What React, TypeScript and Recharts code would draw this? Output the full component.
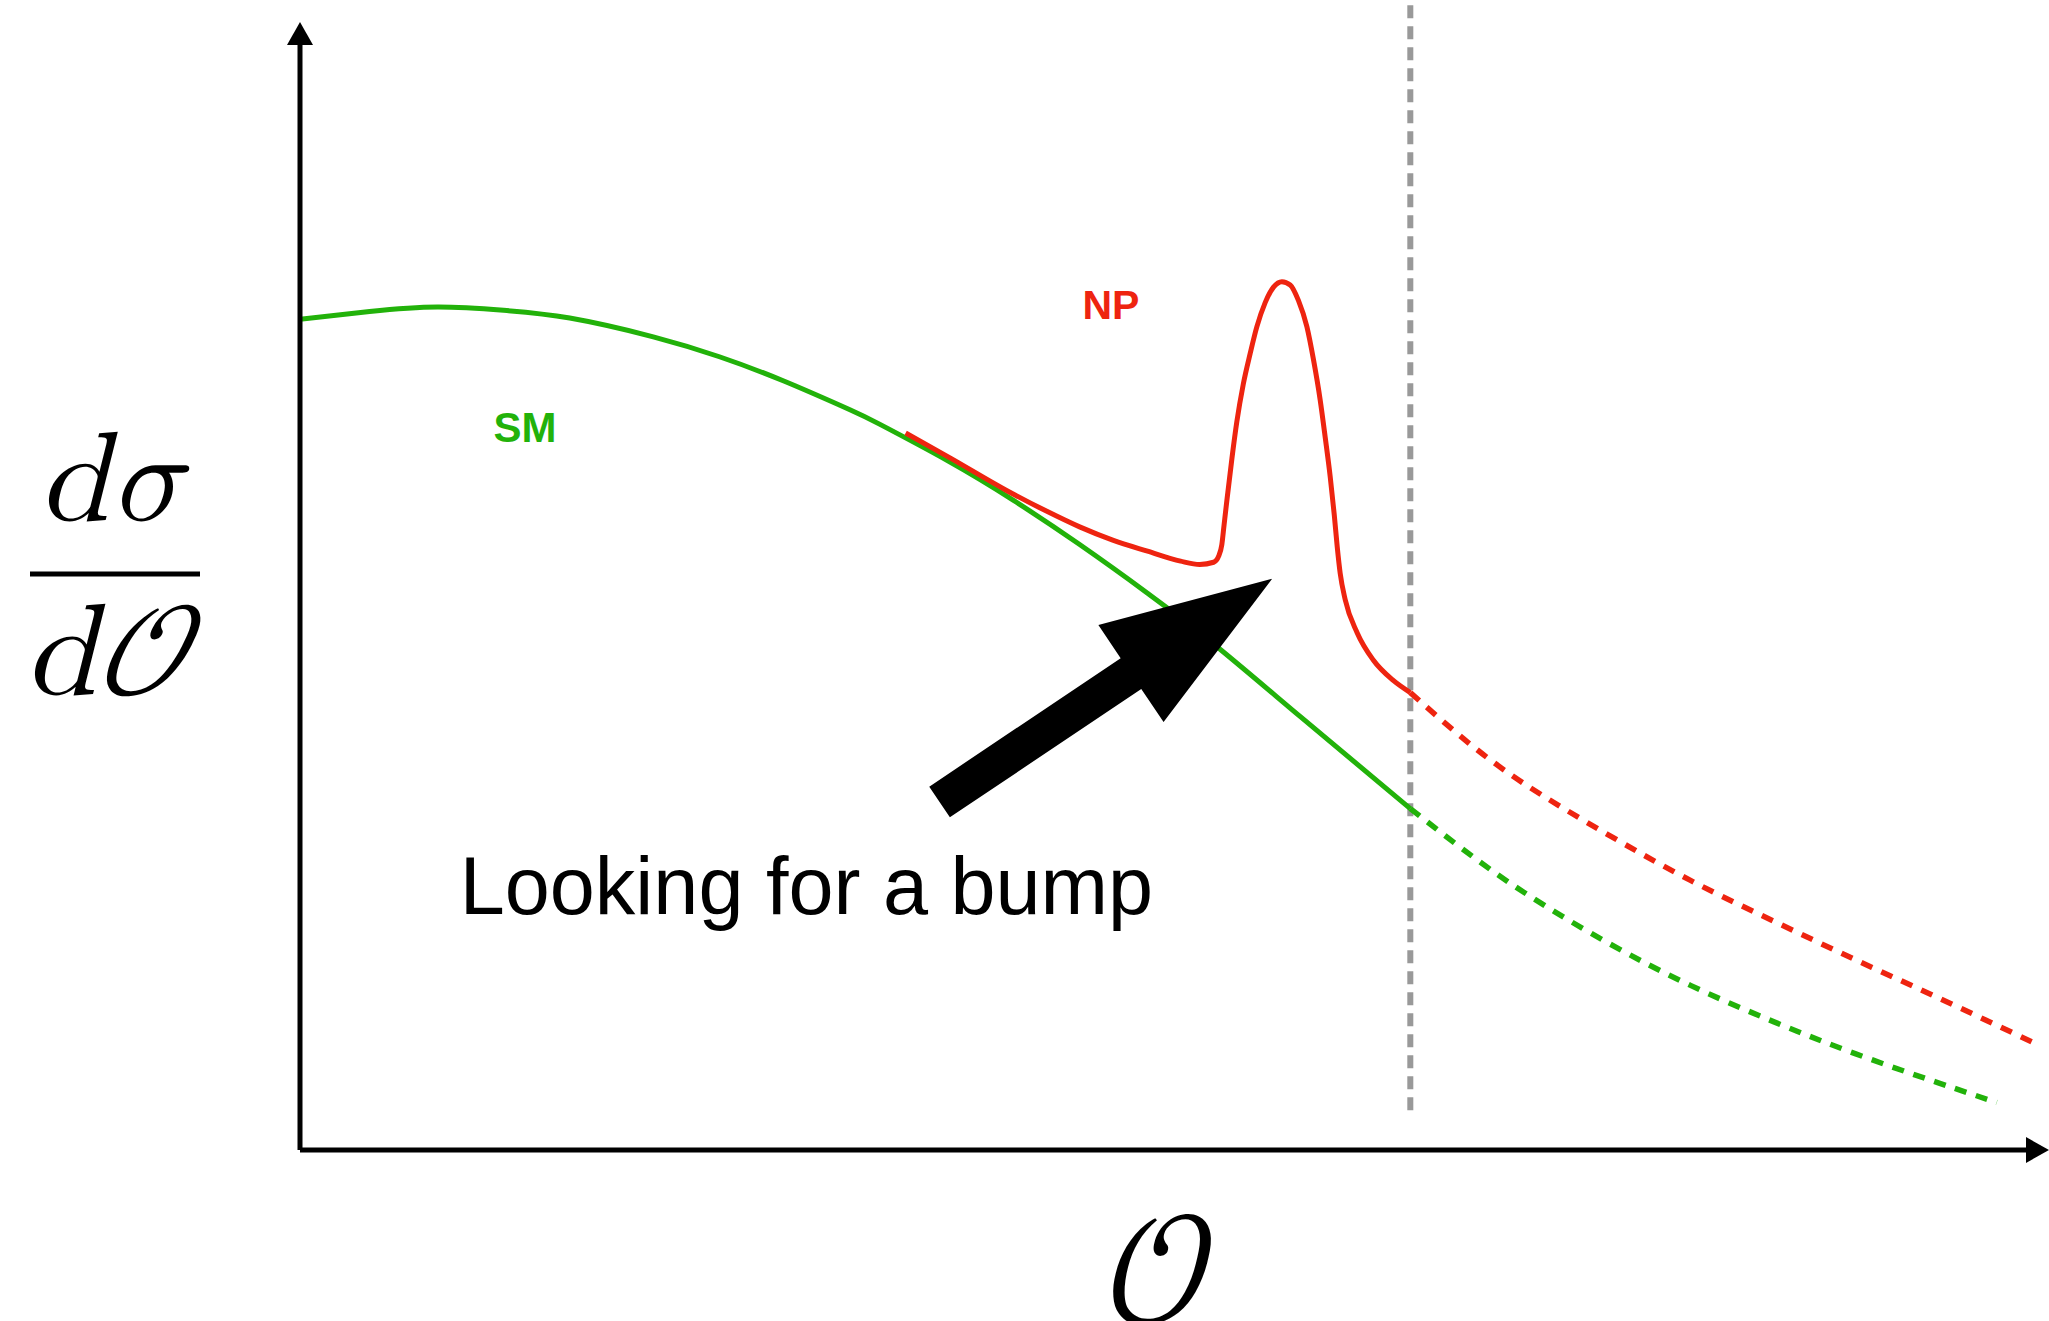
import { LineChart, Line, XAxis, YAxis, ReferenceLine, ReferenceDot } from 'recharts'

// observable O (arbitrary units) vs d sigma / d O (arbitrary units)
const smMeasured = [
  { o: 0, v: 75.2 }, { o: 4.0, v: 75.9 }, { o: 7.9, v: 76.3 }, { o: 11.7, v: 76.0 },
  { o: 15.5, v: 75.3 }, { o: 20.3, v: 73.6 }, { o: 24.1, v: 71.8 }, { o: 27.8, v: 69.6 },
  { o: 31.6, v: 67.0 }, { o: 33.3, v: 65.7 }, { o: 37.2, v: 62.4 }, { o: 41.0, v: 58.8 },
  { o: 44.8, v: 54.8 }, { o: 48.7, v: 50.4 }, { o: 52.5, v: 45.8 }, { o: 57.5, v: 39.2 },
  { o: 63.8, v: 30.9 },
]
const smExtrap = [
  { o: 63.8, v: 30.9 }, { o: 66.8, v: 27.25 }, { o: 70.3, v: 23.35 }, { o: 75.1, v: 18.8 },
  { o: 79.9, v: 14.9 }, { o: 84.7, v: 11.6 }, { o: 89.4, v: 8.7 }, { o: 94.1, v: 6.1 },
  { o: 97.5, v: 4.3 },
]
const npMeasured = [
  { o: 34.8, v: 64.9 }, { o: 37.4, v: 62.6 }, { o: 40.6, v: 59.7 }, { o: 42.8, v: 57.9 },
  { o: 44.8, v: 56.4 }, { o: 46.7, v: 55.2 }, { o: 48.7, v: 54.2 }, { o: 50.6, v: 53.3 },
  { o: 51.7, v: 53.0 }, { o: 52.5, v: 53.2 }, { o: 52.8, v: 53.8 }, { o: 52.97, v: 54.8 },
  { o: 53.1, v: 56.6 }, { o: 53.26, v: 58.8 }, { o: 53.55, v: 62.6 }, { o: 53.83, v: 65.9 },
  { o: 54.2, v: 69.3 }, { o: 54.6, v: 72.1 }, { o: 54.98, v: 74.5 }, { o: 55.46, v: 76.7 },
  { o: 55.94, v: 78.1 }, { o: 56.42, v: 78.6 }, { o: 56.9, v: 78.3 }, { o: 57.37, v: 76.9 },
  { o: 57.86, v: 74.5 }, { o: 58.24, v: 71.5 }, { o: 58.62, v: 67.9 }, { o: 58.91, v: 64.5 },
  { o: 59.2, v: 60.9 }, { o: 59.43, v: 57.5 }, { o: 59.6, v: 54.6 }, { o: 59.77, v: 52.2 },
  { o: 60.06, v: 49.8 }, { o: 60.75, v: 46.8 }, { o: 61.67, v: 44.35 }, { o: 62.82, v: 42.5 },
  { o: 63.8, v: 41.4 },
]
const npExtrap = [
  { o: 63.8, v: 41.4 }, { o: 66.8, v: 37.3 }, { o: 70.3, v: 33.2 }, { o: 75.1, v: 28.6 },
  { o: 79.9, v: 24.4 }, { o: 84.7, v: 20.7 }, { o: 89.4, v: 17.2 }, { o: 94.1, v: 13.8 },
  { o: 99.5, v: 9.8 },
]

const cut = 63.8
const bumpArrow = [{ o: 36.75, v: 31.5 }, { o: 55.86, v: 51.7 }]

const GREEN = '#22b20a'
const RED = '#ee2410'

function AxisArrow(p: any) {
  const { x1, y1, x2, y2 } = p
  const dx = x2 - x1, dy = y2 - y1
  const L = Math.hypot(dx, dy)
  const ux = dx / L, uy = dy / L, nx = -uy, ny = ux
  const hl = 23, hw = 13
  const bx = x2 - ux * hl, by = y2 - uy * hl
  return (
    <g>
      <line x1={x1} y1={y1} x2={bx} y2={by} stroke="#000" strokeWidth={5} />
      <polygon
        points={`${x2},${y2} ${bx + nx * hw},${by + ny * hw} ${bx - nx * hw},${by - ny * hw}`}
        fill="#000"
      />
    </g>
  )
}

function BigArrow(p: any) {
  const { x1, y1, x2, y2 } = p
  const dx = x2 - x1, dy = y2 - y1
  const L = Math.hypot(dx, dy)
  const ux = dx / L, uy = dy / L, nx = -uy, ny = ux
  const hl = 170, hw = 58.5, sw = 18.5
  const bx = x2 - ux * hl, by = y2 - uy * hl
  const pt = (x: number, y: number) => `${x},${y}`
  const pts = [
    pt(x1 + nx * sw, y1 + ny * sw),
    pt(bx + nx * sw, by + ny * sw),
    pt(bx + nx * hw, by + ny * hw),
    pt(x2, y2),
    pt(bx - nx * hw, by - ny * hw),
    pt(bx - nx * sw, by - ny * sw),
    pt(x1 - nx * sw, y1 - ny * sw),
  ].join(' ')
  return <polygon points={pts} fill="#000" />
}

const tag = (text: string, color: string, size: number, weight: number) => (p: any) => (
  <text
    x={p.cx}
    y={p.cy}
    textAnchor="middle"
    fill={color}
    fontSize={size}
    fontWeight={weight}
    fontFamily="'Liberation Sans', Arial, Helvetica, sans-serif"
  >
    {text}
  </text>
)

const mathFont = "'Latin Modern Math', 'DejaVu Math TeX Gyre', 'Liberation Serif', serif"

export default function App() {
  return (
    <div style={{ position: 'absolute', left: 0, top: 0, width: 2049, height: 1321, background: '#fff', overflow: 'hidden' }}>
      <LineChart width={2049} height={1321} margin={{ top: 22, right: 0, left: 300, bottom: 171 }}>
        <XAxis type="number" dataKey="o" domain={[0, 100.5]} allowDataOverflow hide />
        <YAxis type="number" dataKey="v" domain={[0, 102.1]} allowDataOverflow hide />

        <ReferenceLine
          segment={[{ x: cut, y: 3.6 }, { x: cut, y: 104.1 }]}
          stroke="#999"
          strokeWidth={6}
          strokeDasharray="13 8"
          ifOverflow="visible"
        />

        <Line data={smMeasured} dataKey="v" type="natural" stroke={GREEN} strokeWidth={5} dot={false} activeDot={false} isAnimationActive={false} />
        <Line data={smExtrap} dataKey="v" type="natural" stroke={GREEN} strokeWidth={5.5} strokeDasharray="12 10" dot={false} activeDot={false} isAnimationActive={false} />
        <Line data={npMeasured} dataKey="v" type="monotone" stroke={RED} strokeWidth={5} dot={false} activeDot={false} isAnimationActive={false} />
        <Line data={npExtrap} dataKey="v" type="natural" stroke={RED} strokeWidth={5.5} strokeDasharray="12 10" dot={false} activeDot={false} isAnimationActive={false} />

        <ReferenceLine segment={[{ x: 0, y: 0 }, { x: 0, y: 102.1 }]} ifOverflow="visible" shape={AxisArrow} />
        <ReferenceLine segment={[{ x: 0, y: 0 }, { x: 100.5, y: 0 }]} ifOverflow="visible" shape={AxisArrow} />

        <ReferenceLine
          segment={[{ x: bumpArrow[0].o, y: bumpArrow[0].v }, { x: bumpArrow[1].o, y: bumpArrow[1].v }]}
          ifOverflow="visible"
          shape={BigArrow}
        />

        <ReferenceDot x={46.6} y={75.2} r={0} ifOverflow="visible" shape={tag('NP', RED, 41, 700)} />
        <ReferenceDot x={12.93} y={64.1} r={0} ifOverflow="visible" shape={tag('SM', GREEN, 42, 700)} />
        <ReferenceDot x={29.1} y={21.36} r={0} ifOverflow="visible" shape={tag('Looking for a bump', '#000', 81, 400)} />
      </LineChart>

      <svg width={2049} height={1321} style={{ position: 'absolute', left: 0, top: 0, pointerEvents: 'none' }}>
        <text x={112} y={520} textAnchor="middle" fontSize={127} fontStyle="italic" fontFamily={mathFont}>dσ</text>
        <line x1={30} y1={574} x2={200} y2={574} stroke="#000" strokeWidth={5} />
        <text x={106} y={694} textAnchor="middle" fontSize={130} fontStyle="italic" fontFamily={mathFont}>d𝒪</text>
        <text x={1162} y={1322} textAnchor="middle" fontSize={158} fontFamily={mathFont}>𝒪</text>
      </svg>
    </div>
  )
}
